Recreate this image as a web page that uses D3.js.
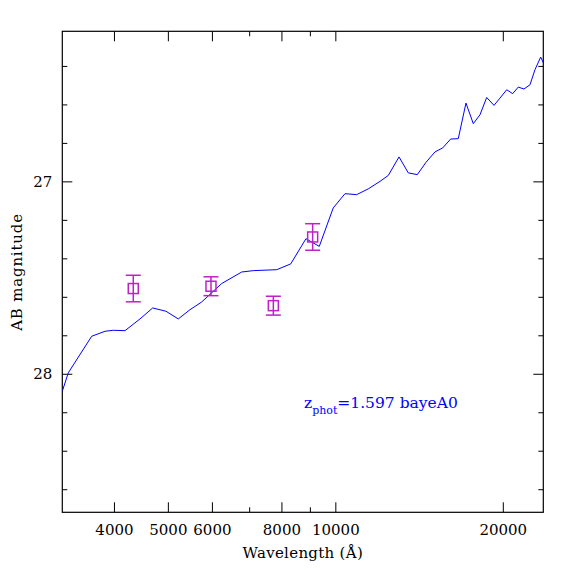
<!DOCTYPE html>
<html>
<head>
<meta charset="utf-8">
<script src="https://cdn.jsdelivr.net/npm/d3@7"></script>
<style>
  body { margin: 0; background: #fff; }
  text { font-family: "DejaVu Serif", serif; fill: #000; }
</style>
</head>
<body>
<div id="chart-area"></div>
<script>
// template SED (wavelength in Angstrom, AB mag)
const sedWave = [3230, 3311, 3648, 3855, 3989, 4187, 4455, 4695, 4961, 5220,
  5479, 5751, 6247, 6788, 7121, 7847, 8314, 8855, 9357, 9914,
  10407, 10922, 11461, 12031, 12451, 13015, 13526, 14038, 14553, 15104,
  15594, 16119, 16634, 17173, 17700, 18198, 18709, 19284, 19769, 20325,
  20835, 21323, 21832, 22381, 22848, 23394, 23800];
const sedMag = [28.091, 27.995, 27.805, 27.779, 27.774, 27.776, 27.715, 27.658, 27.675, 27.715,
  27.667, 27.627, 27.531, 27.471, 27.464, 27.459, 27.429, 27.298, 27.338, 27.138,
  27.064, 27.069, 27.039, 27.000, 26.969, 26.873, 26.956, 26.965, 26.901, 26.847,
  26.826, 26.780, 26.778, 26.593, 26.700, 26.654, 26.564, 26.605, 26.567, 26.524,
  26.544, 26.510, 26.520, 26.498, 26.420, 26.354, 26.400];

// observed photometry
const photWave = [4333, 5977, 7737, 9104];
const photMag = [27.557, 27.545, 27.646, 27.289];
const photErr = [0.069, 0.049, 0.049, 0.069];

const xMajor = [4000, 5000, 6000, 8000, 10000, 20000];
const xMinor = [7000, 9000];
const yMajor = [27, 28];
const yMinor = [26.4, 26.6, 26.8, 27.2, 27.4, 27.6, 27.8, 28.2, 28.4, 28.6];

const W = 574, H = 574;
const margin = { left: 62.3, right: 30.7, top: 31.3, bottom: 61.7 };
const iw = W - margin.left - margin.right;
const ih = H - margin.top - margin.bottom;

const x = d3.scaleLog().domain([3230, 23650]).range([0, iw]);
const y = d3.scaleLinear().domain([26.22, 28.72]).range([0, ih]);

const svg = d3.select('#chart-area').append('svg')
  .attr('width', W)
  .attr('height', H);

const g = svg.append('g')
  .attr('transform', `translate(${margin.left},${margin.top})`);

g.append('clipPath').attr('id', 'clip')
  .append('rect').attr('width', iw).attr('height', ih);

// axes: ticks point inward, mirrored on all four sides
function styleAxis(sel) {
  sel.select('.domain').remove();
  sel.selectAll('line').attr('stroke', '#000').attr('stroke-width', 1);
  sel.selectAll('text').style('font-size', '15px').attr('fill', '#000');
}

g.append('g').attr('transform', `translate(0,${ih})`)
  .call(d3.axisBottom(x).tickValues(xMajor).tickSize(-10).tickPadding(12).tickFormat(d3.format('d')))
  .call(styleAxis);
g.append('g').attr('transform', `translate(0,${ih})`)
  .call(d3.axisBottom(x).tickValues(xMinor).tickSize(-5).tickFormat(''))
  .call(styleAxis);
g.append('g')
  .call(d3.axisTop(x).tickValues(xMajor).tickSize(-10).tickFormat(''))
  .call(styleAxis);
g.append('g')
  .call(d3.axisTop(x).tickValues(xMinor).tickSize(-5).tickFormat(''))
  .call(styleAxis);

g.append('g')
  .call(d3.axisLeft(y).tickValues(yMajor).tickSize(-10).tickPadding(10).tickFormat(d3.format('d')))
  .call(styleAxis);
g.append('g')
  .call(d3.axisLeft(y).tickValues(yMinor).tickSize(-5).tickFormat(''))
  .call(styleAxis);
g.append('g').attr('transform', `translate(${iw},0)`)
  .call(d3.axisRight(y).tickValues(yMajor).tickSize(-10).tickFormat(''))
  .call(styleAxis);
g.append('g').attr('transform', `translate(${iw},0)`)
  .call(d3.axisRight(y).tickValues(yMinor).tickSize(-5).tickFormat(''))
  .call(styleAxis);

g.append('rect')
  .attr('width', iw).attr('height', ih)
  .attr('fill', 'none').attr('stroke', '#000').attr('stroke-width', 1.2);

// SED line
const sed = sedWave.map((w, i) => ({ w: w, m: sedMag[i] }));
g.append('path')
  .datum(sed)
  .attr('clip-path', 'url(#clip)')
  .attr('fill', 'none')
  .attr('stroke', '#0000ff')
  .attr('stroke-width', 1)
  .attr('d', d3.line().x(d => x(d.w)).y(d => y(d.m)));

// photometry with error bars
const phot = photWave.map((w, i) => ({ w: w, m: photMag[i], e: photErr[i] }));
const col = '#c020c8';
const pts = g.selectAll('.pt').data(phot).enter().append('g').attr('class', 'pt');
pts.append('line')
  .attr('x1', d => x(d.w)).attr('x2', d => x(d.w))
  .attr('y1', d => y(d.m - d.e)).attr('y2', d => y(d.m + d.e))
  .attr('stroke', col).attr('stroke-width', 1.5);
pts.append('line')
  .attr('x1', d => x(d.w) - 7.5).attr('x2', d => x(d.w) + 7.5)
  .attr('y1', d => y(d.m - d.e)).attr('y2', d => y(d.m - d.e))
  .attr('stroke', col).attr('stroke-width', 1.5);
pts.append('line')
  .attr('x1', d => x(d.w) - 7.5).attr('x2', d => x(d.w) + 7.5)
  .attr('y1', d => y(d.m + d.e)).attr('y2', d => y(d.m + d.e))
  .attr('stroke', col).attr('stroke-width', 1.5);
pts.append('rect')
  .attr('x', d => x(d.w) - 5).attr('y', d => y(d.m) - 5)
  .attr('width', 10).attr('height', 10)
  .attr('fill', 'none').attr('stroke', col).attr('stroke-width', 1.5);

// labels
svg.append('text')
  .attr('x', margin.left + iw / 2).attr('y', 558)
  .attr('text-anchor', 'middle').style('font-size', '15px')
  .style('letter-spacing', '0.3px')
  .text('Wavelength (Å)');

svg.append('text')
  .attr('transform', 'translate(22,272) rotate(-90)')
  .attr('text-anchor', 'middle').style('font-size', '15px')
  .style('letter-spacing', '0.8px')
  .text('AB magnitude');

const zt = svg.append('text')
  .attr('x', 304).attr('y', 408)
  .style('font-size', '15.5px')
  .style('fill', '#0000ff');
zt.append('tspan').text('z');
zt.append('tspan').attr('dy', 6).style('font-size', '11px').text('phot');
zt.append('tspan').attr('dy', -6).text('=1.597 bayeA0');
</script>
</body>
</html>
